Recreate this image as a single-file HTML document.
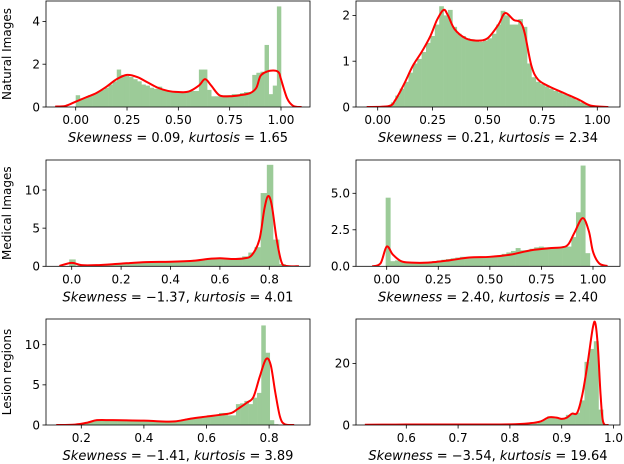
<!DOCTYPE html>
<html><head><meta charset="utf-8">
<style>
html,body{margin:0;padding:0;background:#fff;}
svg{display:block;font-family:"DejaVu Sans","Liberation Sans",sans-serif;}
</style></head>
<body>
<svg id="chart" width="624" height="464" viewBox="0 0 624 464" xmlns="http://www.w3.org/2000/svg"></svg>
<script>
// ---------- data ----------
const p1BinStart = 0, p1BinWidth = 0.02;
const p1Bars = [0.55,0.4,0.45,0.55,0.6,0.7,0.8,0.9,1.05,1.2,1.75,1.5,1.45,1.4,1.3,1.2,1.05,1.0,0.9,0.85,0.95,0.8,0.75,0.72,0.7,0.7,0.7,0.72,0.75,0.75,1.75,1.75,0.8,0.5,0.5,0.5,0.55,0.55,0.6,0.6,0.65,0.7,0.7,1.5,1.6,1.65,2.9,0.6,1.0,4.7];
const p1KdeX = [-0.1,-0.05,0,0.05,0.1,0.15,0.2,0.25,0.3,0.35,0.4,0.45,0.5,0.55,0.6,0.63,0.66,0.7,0.75,0.8,0.85,0.88,0.9,0.93,0.97,0.99,1.0,1.03,1.06,1.1];
const p1KdeY = [0.02,0.05,0.25,0.45,0.65,0.95,1.3,1.5,1.4,1.15,0.9,0.75,0.7,0.72,1.0,1.3,1.0,0.55,0.5,0.55,0.65,0.9,1.45,1.65,1.7,1.6,1.3,0.4,0.05,0.0];
const p1YTicks = [0,2,4];
const p1XTicks = [0,0.25,0.5,0.75,1.0];
const p1XLabels = ["0.00","0.25","0.50","0.75","1.00"];

const p2BinStart = 0.04, p2BinWidth = 0.02;
const p2Bars = [0.02,0.1,0.25,0.4,0.55,0.75,0.95,1.05,1.2,1.4,1.55,1.8,2.2,2.0,2.12,1.75,1.6,1.55,1.5,1.48,1.45,1.42,1.45,1.5,1.6,1.8,2.1,2.0,1.8,1.8,1.92,1.75,0.95,0.65,0.55,0.5,0.45,0.4,0.35,0.32,0.28,0.25,0.2,0.15,0.1,0.06,0.03];
const p2KdeX = [-0.05,0.05,0.08,0.12,0.16,0.2,0.24,0.27,0.3,0.32,0.35,0.4,0.45,0.5,0.55,0.58,0.62,0.65,0.67,0.7,0.73,0.78,0.85,0.92,0.97,1.05];
const p2KdeY = [0,0.02,0.15,0.5,0.9,1.2,1.55,1.9,2.12,2.0,1.7,1.5,1.45,1.5,1.8,2.05,1.9,1.85,1.6,0.9,0.6,0.45,0.3,0.15,0.03,0];
const p2YTicks = [0,1,2];
const p2XTicks = [0,0.25,0.5,0.75,1.0];
const p2XLabels = ["0.00","0.25","0.50","0.75","1.00"];

const p3BinStart = -0.01, p3BinWidth = 0.025;
const p3Bars = [0.9,0.1,0.1,0.15,0.15,0.2,0.25,0.3,0.35,0.4,0.5,0.5,0.55,0.6,0.6,0.6,0.6,0.65,0.7,0.7,0.85,0.95,1.0,1.05,1.0,0.95,0.95,1.1,1.3,1.8,2.5,9.6,13.3,3.5,0.3,0.05];
const p3KdeX = [-0.05,0,0.04,0.1,0.2,0.3,0.4,0.5,0.55,0.6,0.65,0.7,0.73,0.76,0.78,0.795,0.81,0.83,0.85,0.87,0.92];
const p3KdeY = [0.05,0.45,0.15,0.15,0.35,0.55,0.6,0.75,0.95,1.05,0.95,1.05,1.5,3.5,7.5,9.2,8.0,3.5,0.5,0.05,0];
const p3YTicks = [0,5,10];
const p3XTicks = [0,0.2,0.4,0.6,0.8];
const p3XLabels = ["0.0","0.2","0.4","0.6","0.8"];

const p4BinStart = -0.005, p4BinWidth = 0.0225;
const p4Bars = [4.7,0.35,0.4,0.35,0.3,0.25,0.25,0.25,0.3,0.3,0.35,0.4,0.45,0.5,0.55,0.6,0.65,0.65,0.65,0.65,0.65,0.65,0.7,0.7,0.75,0.85,0.95,1.05,1.25,1.1,1.1,1.2,1.3,1.35,1.3,1.3,1.3,1.3,1.35,1.35,2.0,3.7,6.9,0.9];
const p4KdeX = [-0.07,-0.03,0,0.03,0.07,0.12,0.2,0.3,0.4,0.5,0.6,0.7,0.8,0.85,0.88,0.91,0.95,0.98,1.0,1.03,1.07];
const p4KdeY = [0,0.2,1.35,0.8,0.35,0.25,0.25,0.4,0.6,0.65,0.8,1.1,1.25,1.3,1.5,2.3,3.3,2.4,1.0,0.2,0.02];
const p4YTicks = [0,2.5,5];
const p4YLabels = ["0.0","2.5","5.0"];
const p4XTicks = [0,0.25,0.5,0.75,1.0];
const p4XLabels = ["0.00","0.25","0.50","0.75","1.00"];

const p5BinStart = 0.154, p5BinWidth = 0.0135;
const p5Bars = [0.05,0.1,0.15,0.2,0.3,0.45,0.55,0.6,0.55,0.55,0.55,0.55,0.55,0.55,0.5,0.55,0.55,0.55,0.55,0.5,0.5,0.5,0.5,0.5,0.5,0.5,0.6,0.7,0.8,0.85,0.9,1.0,1.1,1.15,1.2,1.3,1.5,1.5,1.2,1.2,2.6,2.7,3.0,2.6,3.4,4.0,12.4,9.0,0.6,0.1];
const p5KdeX = [0.12,0.18,0.22,0.25,0.3,0.4,0.45,0.5,0.55,0.6,0.65,0.68,0.7,0.73,0.75,0.77,0.79,0.805,0.82,0.835,0.85,0.88];
const p5KdeY = [0,0.05,0.3,0.6,0.6,0.55,0.45,0.45,0.8,1.05,1.3,1.5,2.0,2.8,3.5,6.0,8.2,7.5,4.0,1.0,0.1,0];
const p5YTicks = [0,5,10];
const p5XTicks = [0.2,0.4,0.6,0.8];
const p5XLabels = ["0.2","0.4","0.6","0.8"];

const p6BinStart = 0.53, p6BinWidth = 0.009;
const p6Bars = [0.1,0.1,0.1,0.1,0.1,0.1,0.1,0.1,0.1,0.1,0.1,0.1,0.1,0.1,0.1,0.1,0.1,0.1,0.1,0.1,0.1,0.1,0.1,0.1,0.1,0.15,0.15,0.15,0.2,0.2,0.2,0.2,0.25,0.3,0.4,0.5,1.0,1.8,2.8,2.3,2.0,2.2,3.3,3.5,4.0,8.0,20.5,24.7,27.2,5.0,0.3];
const p6KdeX = [0.52,0.6,0.7,0.8,0.84,0.86,0.875,0.89,0.9,0.91,0.92,0.93,0.94,0.95,0.96,0.965,0.97,0.975,0.98,0.99];
const p6KdeY = [0.1,0.15,0.15,0.2,0.6,1.2,2.5,2.4,2.0,2.4,3.7,4.0,10,20,31.5,33,25,10,1,0];
const p6YTicks = [0,20];
const p6XTicks = [0.6,0.7,0.8,0.9,1.0];
const p6XLabels = ["0.6","0.7","0.8","0.9","1.0"];

// ---------- drawing ----------
const NS = "http://www.w3.org/2000/svg";
const svg = document.getElementById("chart");
function mk(tag, parent){ const e=document.createElementNS(NS,tag); parent.appendChild(e); return e; }

function panel(cfg){
  const g = mk("g", svg);
  
  
  const sx = v => cfg.px0 + (v - cfg.x0) * cfg.kx;
  const sy = v => cfg.bottom - v * cfg.ky;
  const clipId = cfg.name + "-clip";
  const cp = mk("clipPath", g); cp.setAttribute("id", clipId);
  const cr = mk("rect", cp);
  cr.setAttribute("x", cfg.left); cr.setAttribute("y", cfg.top);
  cr.setAttribute("width", cfg.right-cfg.left); cr.setAttribute("height", cfg.bottom-cfg.top);
  const bg = mk("g", g); bg.setAttribute("clip-path", "url(#"+clipId+")");
  
  
  cfg.bars.forEach((h,i)=>{
    const a = cfg.binStart + i*cfg.binWidth, b = a + cfg.binWidth;
    const r = mk("rect", bg);
    
    
    r.setAttribute("x", sx(a)); r.setAttribute("width", Math.max(0.5, sx(b)-sx(a)+0.3));
    r.setAttribute("y", sy(h)); r.setAttribute("height", Math.max(0, sy(0)-sy(h)));
    r.setAttribute("fill", "#9ccb98");
  });
  const pts = cfg.kdeX.map((x,i)=>[sx(x), sy(cfg.kdeY[i])]);
  let d = "M"+pts[0][0]+","+pts[0][1];
  for(let i=0;i<pts.length-1;i++){
    const p0=pts[Math.max(0,i-1)], p1=pts[i], p2=pts[i+1], p3=pts[Math.min(pts.length-1,i+2)];
    const c1=[p1[0]+(p2[0]-p0[0])/6, p1[1]+(p2[1]-p0[1])/6];
    const c2=[p2[0]-(p3[0]-p1[0])/6, p2[1]-(p3[1]-p1[1])/6];
    d += " C"+c1[0]+","+c1[1]+" "+c2[0]+","+c2[1]+" "+p2[0]+","+p2[1];
  }
  const path = mk("path", bg);
  
  
  path.setAttribute("d", d); path.setAttribute("fill","none");
  path.setAttribute("stroke","#ff0000"); path.setAttribute("stroke-width","2");
  path.setAttribute("stroke-linejoin","round");
  const fr = mk("rect", g);
  
  
  fr.setAttribute("x", cfg.left); fr.setAttribute("y", cfg.top);
  fr.setAttribute("width", cfg.right-cfg.left); fr.setAttribute("height", cfg.bottom-cfg.top);
  fr.setAttribute("fill","none"); fr.setAttribute("stroke","#000"); fr.setAttribute("stroke-width","0.8");
  cfg.xTicks.forEach((v,i)=>{
    const x = sx(v);
    const t = mk("line", g);
    
    
    t.setAttribute("x1",x); t.setAttribute("x2",x); t.setAttribute("y1",cfg.bottom); t.setAttribute("y2",cfg.bottom+3.5);
    t.setAttribute("stroke","#000"); t.setAttribute("stroke-width","0.8");
    const l = mk("text", g);
    
    
    l.setAttribute("x",x); l.setAttribute("y",cfg.bottom+17); l.setAttribute("text-anchor","middle");
    l.setAttribute("font-size","12"); l.textContent = cfg.xLabels[i];
  });
  cfg.yTicks.forEach((v,i)=>{
    const y = sy(v);
    const t = mk("line", g);
    
    
    t.setAttribute("x1",cfg.left-3.5); t.setAttribute("x2",cfg.left); t.setAttribute("y1",y); t.setAttribute("y2",y);
    t.setAttribute("stroke","#000"); t.setAttribute("stroke-width","0.8");
    const l = mk("text", g);
    
    
    l.setAttribute("x",cfg.left-6); l.setAttribute("y",y+4.3); l.setAttribute("text-anchor","end");
    l.setAttribute("font-size","12"); l.textContent = cfg.yLabels ? cfg.yLabels[i] : String(v);
  });
  const c = mk("text", g);
  
  
  c.setAttribute("x",(cfg.left+cfg.right)/2); c.setAttribute("y",cfg.bottom+35);
  c.setAttribute("text-anchor","middle"); c.setAttribute("font-size","13");
  c.innerHTML = '<tspan font-style="italic">Skewness</tspan> = '+cfg.skew+',  <tspan font-style="italic">kurtosis</tspan> = '+cfg.kurt;
  if(cfg.ylabel){
    const yl = mk("text", g);
    
    
    const cy=(cfg.top+cfg.bottom)/2;
    yl.setAttribute("transform","translate(11,"+cy+") rotate(-90)");
    yl.setAttribute("text-anchor","middle"); yl.setAttribute("font-size","12");
    yl.textContent = cfg.ylabel;
  }
}

panel({name:"natural-images-left",left:46,right:310,top:1,bottom:107,x0:0,px0:75.7,kx:205.3,ky:21.4,
  bars:p1Bars,binStart:p1BinStart,binWidth:p1BinWidth,kdeX:p1KdeX,kdeY:p1KdeY,
  xTicks:p1XTicks,xLabels:p1XLabels,yTicks:p1YTicks,skew:"0.09",kurt:"1.65",ylabel:"Natural Images"});
panel({name:"natural-images-right",left:356,right:620,top:1,bottom:107,x0:0,px0:377.7,kx:219.6,ky:45.8,
  bars:p2Bars,binStart:p2BinStart,binWidth:p2BinWidth,kdeX:p2KdeX,kdeY:p2KdeY,
  xTicks:p2XTicks,xLabels:p2XLabels,yTicks:p2YTicks,skew:"0.21",kurt:"2.34"});
panel({name:"medical-images-left",left:46,right:310,top:160,bottom:266.3,x0:0,px0:71.7,kx:247,ky:7.63,
  bars:p3Bars,binStart:p3BinStart,binWidth:p3BinWidth,kdeX:p3KdeX,kdeY:p3KdeY,
  xTicks:p3XTicks,xLabels:p3XLabels,yTicks:p3YTicks,skew:"\u22121.37",kurt:"4.01",ylabel:"Medical Images"});
panel({name:"medical-images-right",left:356,right:620,top:160,bottom:266.3,x0:0,px0:386.7,kx:206.3,ky:14.6,
  bars:p4Bars,binStart:p4BinStart,binWidth:p4BinWidth,kdeX:p4KdeX,kdeY:p4KdeY,
  xTicks:p4XTicks,xLabels:p4XLabels,yTicks:p4YTicks,yLabels:p4YLabels,skew:"2.40",kurt:"2.40"});
panel({name:"lesion-regions-left",left:46,right:310,top:319,bottom:425,x0:0.2,px0:81.3,kx:313,ky:8.03,
  bars:p5Bars,binStart:p5BinStart,binWidth:p5BinWidth,kdeX:p5KdeX,kdeY:p5KdeY,
  xTicks:p5XTicks,xLabels:p5XLabels,yTicks:p5YTicks,skew:"\u22121.41",kurt:"3.89",ylabel:"Lesion regions"});
panel({name:"lesion-regions-right",left:356,right:620,top:319,bottom:425,x0:0.6,px0:406.3,kx:518,ky:3.08,
  bars:p6Bars,binStart:p6BinStart,binWidth:p6BinWidth,kdeX:p6KdeX,kdeY:p6KdeY,
  xTicks:p6XTicks,xLabels:p6XLabels,yTicks:p6YTicks,skew:"\u22123.54",kurt:"19.64"});
</script>
</body></html>
